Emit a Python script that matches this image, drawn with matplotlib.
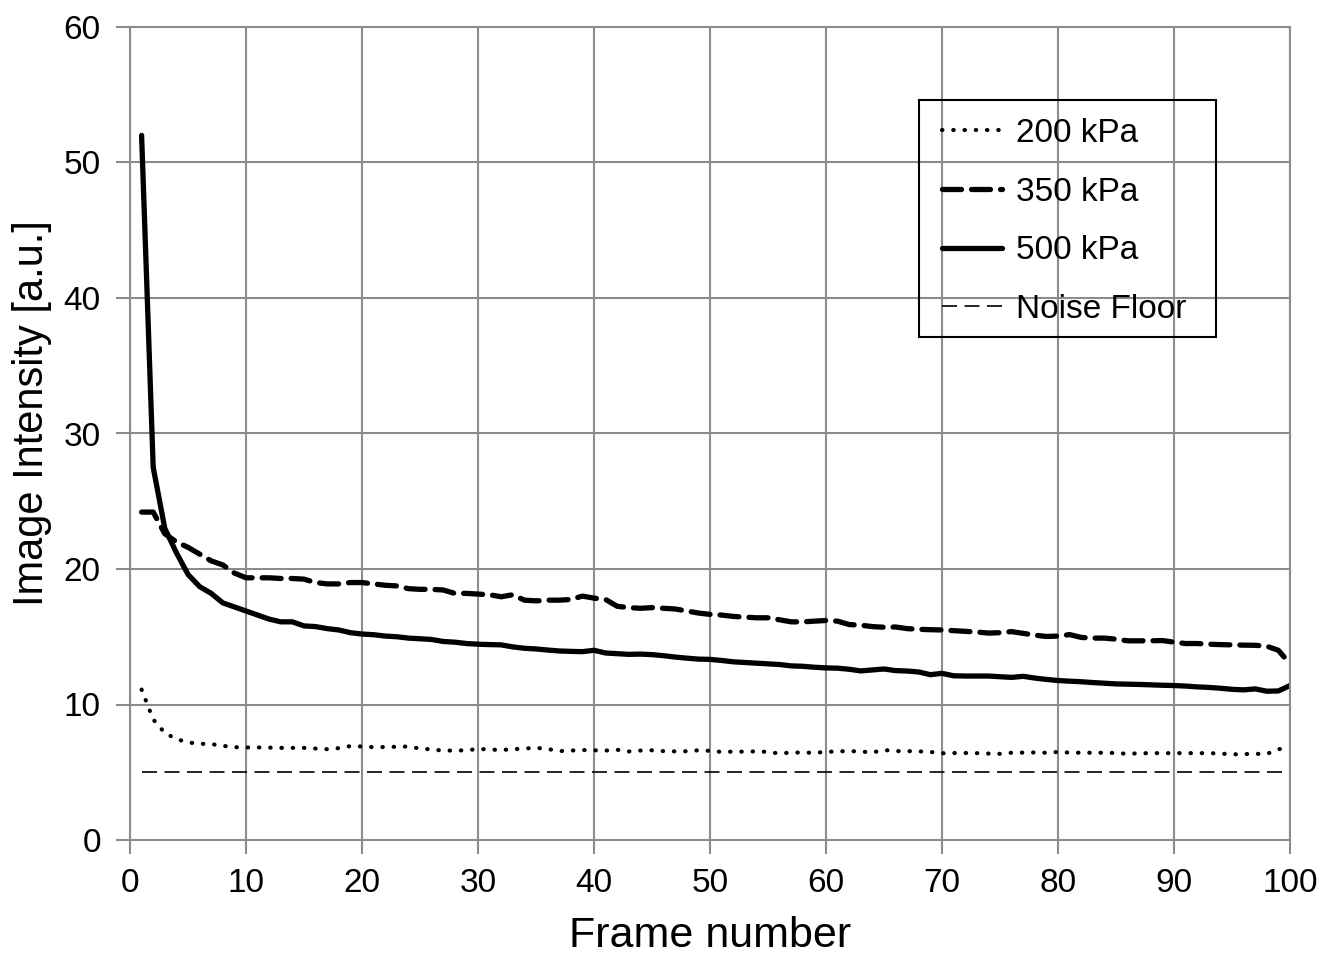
import numpy as np
import matplotlib.pyplot as plt
from matplotlib.patches import Rectangle

plt.rcParams['font.family'] = ['Liberation Sans', 'DejaVu Sans']

# frame numbers 1..100
frames = np.arange(1, 101)

# image intensity, one value per frame
kpa_200 = [11.1, 8.9, 7.9, 7.45, 7.2, 7.1, 7.08, 6.95, 6.85, 6.83,
           6.83, 6.82, 6.8, 6.8, 6.8, 6.75, 6.7, 6.78, 6.93, 6.9,
           6.85, 6.86, 6.88, 6.9, 6.75, 6.68, 6.6, 6.6, 6.62, 6.72,
           6.68, 6.64, 6.7, 6.75, 6.8, 6.72, 6.56, 6.6, 6.64, 6.62,
           6.6, 6.66, 6.53, 6.6, 6.62, 6.56, 6.54, 6.55, 6.62, 6.58,
           6.5, 6.52, 6.52, 6.54, 6.5, 6.38, 6.46, 6.45, 6.44, 6.5,
           6.54, 6.56, 6.53, 6.46, 6.64, 6.56, 6.56, 6.54, 6.5, 6.4,
           6.42, 6.42, 6.41, 6.38, 6.36, 6.44, 6.45, 6.46, 6.44, 6.5,
           6.45, 6.44, 6.44, 6.44, 6.42, 6.36, 6.4, 6.41, 6.41, 6.41,
           6.41, 6.41, 6.41, 6.38, 6.32, 6.34, 6.36, 6.35, 6.7, 6.8]

kpa_350 = [24.2, 24.2, 22.6, 22.0, 21.6, 21.1, 20.6, 20.3, 19.7, 19.35,
           19.35, 19.35, 19.3, 19.3, 19.25, 19.0, 18.9, 18.9, 19.0, 19.0,
           18.9, 18.8, 18.75, 18.55, 18.5, 18.5, 18.45, 18.2, 18.2, 18.15,
           18.1, 17.95, 18.1, 17.7, 17.65, 17.7, 17.7, 17.75, 18.0, 17.85,
           17.75, 17.25, 17.15, 17.1, 17.15, 17.1, 17.05, 16.9, 16.75, 16.65,
           16.6, 16.5, 16.45, 16.4, 16.4, 16.25, 16.1, 16.1, 16.15, 16.2,
           16.15, 15.9, 15.85, 15.75, 15.7, 15.72, 15.6, 15.55, 15.52, 15.5,
           15.45, 15.4, 15.35, 15.27, 15.3, 15.38, 15.25, 15.12, 15.02, 15.05,
           15.16, 14.95, 14.9, 14.9, 14.82, 14.7, 14.7, 14.7, 14.72, 14.6,
           14.5, 14.5, 14.45, 14.42, 14.4, 14.38, 14.37, 14.3, 14.0, 13.0]

kpa_500 = [52.0, 27.5, 23.0, 21.2, 19.6, 18.7, 18.2, 17.5, 17.2, 16.9,
           16.6, 16.3, 16.1, 16.1, 15.8, 15.75, 15.6, 15.5, 15.3, 15.2,
           15.15, 15.05, 15.0, 14.9, 14.85, 14.8, 14.65, 14.6, 14.5, 14.45,
           14.42, 14.4, 14.25, 14.15, 14.1, 14.02, 13.95, 13.92, 13.9, 14.0,
           13.8, 13.75, 13.7, 13.72, 13.68, 13.6, 13.5, 13.42, 13.35, 13.33,
           13.25, 13.15, 13.1, 13.05, 13.0, 12.95, 12.85, 12.82, 12.75, 12.7,
           12.68, 12.6, 12.48, 12.55, 12.62, 12.5, 12.47, 12.4, 12.2, 12.3,
           12.12, 12.1, 12.1, 12.1, 12.05, 12.0, 12.08, 11.95, 11.85, 11.77,
           11.72, 11.68, 11.62, 11.57, 11.52, 11.5, 11.48, 11.45, 11.42, 11.4,
           11.36, 11.3, 11.26, 11.2, 11.12, 11.08, 11.15, 10.98, 11.0, 11.4]

noise_floor = 5.0

fig = plt.figure(figsize=(13.37, 9.56), dpi=100)
ax = fig.add_axes([130 / 1337, 116 / 956, 1160 / 1337, 813 / 956])

grid_col = '#8c8c8c'

ax.plot(frames, kpa_200, color='black', lw=3.0, linestyle=(0, (0.1, 2.6)),
        dash_capstyle='round', solid_capstyle='round', label='200 kPa')
ax.plot(frames, kpa_350, color='black', lw=3.8, linestyle=(0, (3.6, 1.9)),
        dash_capstyle='round', label='350 kPa')
ax.plot(frames, kpa_500, color='black', lw=3.8, solid_capstyle='round',
        label='500 kPa')
ax.plot(frames, np.full(len(frames), noise_floor), color='black', lw=1.2,
        linestyle=(0, (9, 4.5)), label='Noise Floor')

ax.set_xlim(0, 100)
ax.set_ylim(0, 60)
ax.set_xticks(np.arange(0, 101, 10))
ax.set_yticks(np.arange(0, 61, 10))
ax.grid(True, color=grid_col, lw=1.5)
ax.set_axisbelow(True)
for side in ax.spines.values():
    side.set_color(grid_col)
    side.set_linewidth(1.5)
ax.tick_params(axis='both', colors=grid_col, length=10, width=1.5,
               labelcolor='black', labelsize=24)
ax.tick_params(axis='x', pad=10)
ax.tick_params(axis='y', pad=11)

ax.set_xlabel('Frame number', fontsize=31)
ax.set_ylabel('Image Intensity [a.u.]', fontsize=30)
ax.xaxis.set_label_coords(0.5, -0.094)
ax.yaxis.set_label_coords(-0.067, 0.525)

# legend box outline (no fill, grid shows through as in the original)
fig.patches.append(Rectangle((919 / 1337, 1 - 337 / 956), 297 / 1337, 237 / 956,
                             transform=fig.transFigure, fill=False,
                             edgecolor='black', lw=1.5))
ax.legend(loc='upper left', bbox_to_anchor=(942 / 1337, 1 - 118 / 956),
          bbox_transform=fig.transFigure, fontsize=24, frameon=False,
          handlelength=1.8, handletextpad=0.42, labelspacing=0.83,
          borderpad=0, borderaxespad=0)

plt.savefig('out.png', dpi=100)
